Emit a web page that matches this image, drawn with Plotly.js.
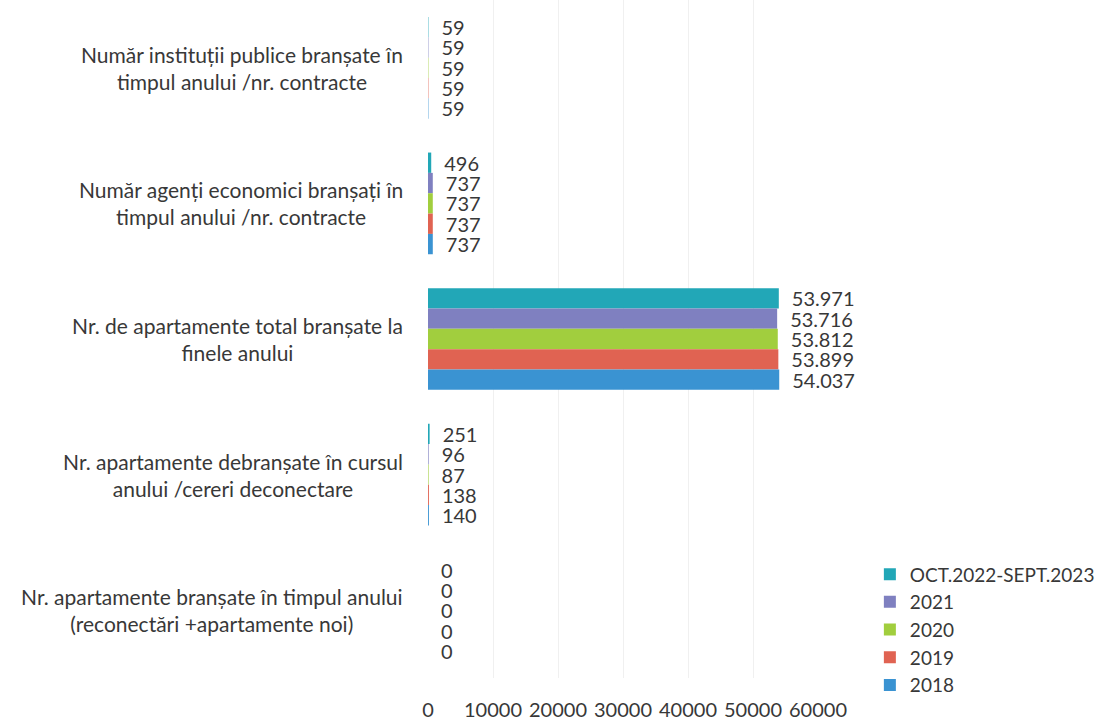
<!DOCTYPE html>
<html>
<head>
<meta charset="utf-8">
<script src="https://cdn.plot.ly/plotly-3.0.1.min.js"></script>
<style>html,body{margin:0;padding:0;background:#fff;}#chart{width:1109px;height:720px;}</style>
</head>
<body>
<div id="chart"></div>
<script>
const categories = [
  "Număr instituții publice branșate în<br>timpul anului /nr. contracte",
  "Număr agenți economici branșați în<br>timpul anului /nr. contracte",
  "Nr. de apartamente total branșate la<br>finele anului",
  "Nr. apartamente debranșate în cursul<br>anului /cereri deconectare",
  "Nr. apartamente branșate în timpul anului<br>(reconectări +apartamente noi)"
];
const seriesNames = ["OCT.2022-SEPT.2023", "2021", "2020", "2019", "2018"];
const valsOct2022 = [59, 496, 53971, 251, 0];
const vals2021 = [59, 737, 53716, 96, 0];
const vals2020 = [59, 737, 53812, 87, 0];
const vals2019 = [59, 737, 53899, 138, 0];
const vals2018 = [59, 737, 54037, 140, 0];
const xTicks = [0, 10000, 20000, 30000, 40000, 50000, 60000];

const seriesValues = [valsOct2022, vals2021, vals2020, vals2019, vals2018];
const colors = ["#22A7B7", "#7F80C0", "#A1CE3E", "#E06352", "#3A93D2"];
const FONT = "Lato, 'Open Sans', sans-serif";

const traces = seriesNames.map((name, i) => ({
  type: "bar",
  orientation: "h",
  name: name,
  y: categories,
  x: seriesValues[i],
  marker: {color: colors[i]},
  texttemplate: "\u2002%{x:,}",
  textposition: "outside",
  constraintext: "none",
  cliponaxis: false,
  textfont: {family: FONT, size: 20, color: "#383838"},
  hoverinfo: "x+name"
}));

const annotations = categories.map(c => ({
  xref: "paper", yref: "y", x: -0.06, y: c,
  xanchor: "right", yanchor: "middle", align: "center",
  text: c, showarrow: false,
  font: {family: FONT, size: 21, color: "#383838"}
}));

const layout = {
  width: 1109, height: 720,
  margin: {l: 428, r: 291, t: 0, b: 42, autoexpand: false},
  paper_bgcolor: "#fff", plot_bgcolor: "#fff",
  barmode: "group",
  bargap: 0.25, bargroupgap: 0,
  separators: ",.",
  showlegend: true,
  legend: {
    x: 1.133, y: 0.181, xanchor: "left", yanchor: "top",
    font: {family: FONT, size: 19, color: "#383838"},
    tracegroupgap: 0,
    bgcolor: "rgba(0,0,0,0)"
  },
  xaxis: {
    range: [0, 60000],
    tickvals: xTicks,
    ticktext: xTicks.map(String),
    showgrid: true, gridcolor: "#f0f0f0", gridwidth: 1,
    zeroline: false, showline: false, ticks: "",
    ticklabelstandoff: 18,
    tickfont: {family: FONT, size: 20, color: "#383838"}
  },
  yaxis: {
    type: "category",
    autorange: "reversed",
    showticklabels: false,
    showgrid: false, zeroline: false, showline: false, ticks: ""
  },
  annotations: annotations
};

Plotly.newPlot("chart", traces, layout, {displayModeBar: false, staticPlot: true});
</script>
</body>
</html>
